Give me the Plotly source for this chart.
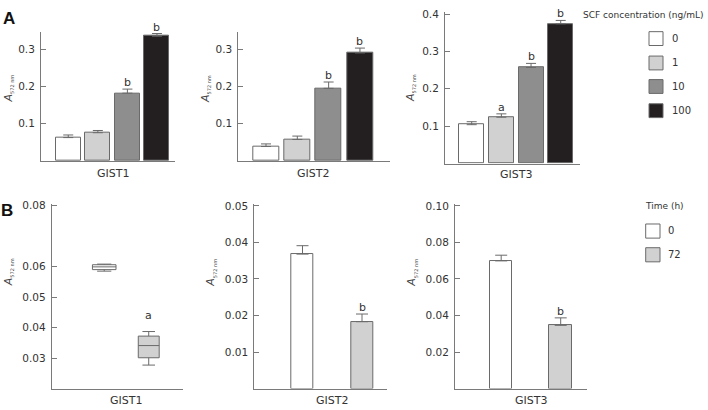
import plotly.graph_objects as go

# ---------------- data ----------------
concentrations = ["0", "1", "10", "100"]
a_groups = ["GIST1", "GIST2", "GIST3"]
a_gist1_mean = [0.063, 0.076, 0.182, 0.335]
a_gist1_upper = [0.070, 0.082, 0.193, 0.342]
a_gist2_mean = [0.039, 0.058, 0.195, 0.290]
a_gist2_upper = [0.046, 0.067, 0.212, 0.303]
a_gist3_mean = [0.104, 0.124, 0.257, 0.374]
a_gist3_upper = [0.112, 0.133, 0.268, 0.383]
a_gist1_sig = ["", "", "b", "b"]
a_gist2_sig = ["", "", "b", "b"]
a_gist3_sig = ["", "a", "b", "b"]

times = ["0", "72"]
b_groups = ["GIST1", "GIST2", "GIST3"]
b_gist1_q1 = [0.0590, 0.0301]
b_gist1_median = [0.0599, 0.0341]
b_gist1_q3 = [0.0606, 0.0372]
b_gist1_low = [0.0585, 0.0277]
b_gist1_high = [0.0608, 0.0387]
b_gist1_sig = ["", "a"]
b_gist2_mean = [0.0368, 0.0183]
b_gist2_upper = [0.0391, 0.0204]
b_gist2_sig = ["", "b"]
b_gist3_mean = [0.0699, 0.0346]
b_gist3_upper = [0.0730, 0.0387]
b_gist3_sig = ["", "b"]

a_ticks_12 = [0.1, 0.2, 0.3]
a_ticks_3 = [0.1, 0.2, 0.3, 0.4]
b_ticks_1 = [0.03, 0.04, 0.05, 0.06, 0.08]
b_ticks_2 = [0.01, 0.02, 0.03, 0.04, 0.05]
b_ticks_3 = [0.02, 0.04, 0.06, 0.08, 0.10]

# ---------------- style ----------------
W, H = 708, 410
FONT = "DejaVu Sans"
conc_colors = ["#ffffff", "#d1d1d1", "#8e8e8e", "#231f20"]
time_colors = ["#ffffff", "#d1d1d1"]
EDGE = "#6a6a6a"
AXIS = "#7a7a7a"
TXT = "#333333"


def px(x):
    return x / W


def py(y):
    return 1 - y / H


fig = go.Figure()

# ---------------- panel A bars ----------------
a_sets = [
    (a_gist1_mean, a_gist1_upper, a_gist1_sig, 0.845),
    (a_gist2_mean, a_gist2_upper, a_gist2_sig, 0.83),
    (a_gist3_mean, a_gist3_upper, a_gist3_sig, 0.84),
]
annotations = []
for k, (means, uppers, sigs, bw) in enumerate(a_sets):
    ax = "" if k == 0 else str(k + 1)
    xs = list(range(len(concentrations)))
    fig.add_trace(go.Bar(
        x=xs, y=means, width=bw,
        marker=dict(color=conc_colors, line=dict(color=EDGE, width=1)),
        error_y=dict(type="data", symmetric=False,
                     array=[u - m for u, m in zip(uppers, means)],
                     arrayminus=[0] * len(means),
                     color=EDGE, thickness=1, width=5),
        xaxis="x" + ax, yaxis="y" + ax, showlegend=False,
        hoverinfo="skip",
    ))
    for i, s in enumerate(sigs):
        if s:
            annotations.append(dict(
                x=i, y=uppers[i], xref="x" + ax, yref="y" + ax, text=s,
                showarrow=False, yanchor="bottom", yshift=-2,
                font=dict(family=FONT, size=11, color=TXT)))

# ---------------- panel B ----------------
box_widths = [0.53, 0.47]
for i in range(len(times)):
    fig.add_trace(go.Box(
        x=[i], q1=[b_gist1_q1[i]], median=[b_gist1_median[i]], q3=[b_gist1_q3[i]],
        lowerfence=[b_gist1_low[i]], upperfence=[b_gist1_high[i]],
        width=box_widths[i], whiskerwidth=0.6,
        fillcolor=time_colors[i], line=dict(color=EDGE, width=1),
        xaxis="x4", yaxis="y4", showlegend=False, hoverinfo="skip",
    ))
    if b_gist1_sig[i]:
        annotations.append(dict(
            x=i, y=b_gist1_high[i], xref="x4", yref="y4", text=b_gist1_sig[i],
            showarrow=False, yanchor="bottom", yshift=8,
            font=dict(family=FONT, size=11, color=TXT)))

b_sets = [(b_gist2_mean, b_gist2_upper, b_gist2_sig, "5", 0.37),
          (b_gist3_mean, b_gist3_upper, b_gist3_sig, "6", 0.38)]
for means, uppers, sigs, ax, bw in b_sets:
    xs = list(range(len(times)))
    fig.add_trace(go.Bar(
        x=xs, y=means, width=bw,
        marker=dict(color=time_colors, line=dict(color=EDGE, width=1)),
        error_y=dict(type="data", symmetric=False,
                     array=[u - m for u, m in zip(uppers, means)],
                     arrayminus=[0] * len(means),
                     color=EDGE, thickness=1, width=6),
        xaxis="x" + ax, yaxis="y" + ax, showlegend=False, hoverinfo="skip",
    ))
    for i, s in enumerate(sigs):
        if s:
            annotations.append(dict(
                x=i, y=uppers[i], xref="x" + ax, yref="y" + ax, text=s,
                showarrow=False, yanchor="bottom", yshift=-2,
                font=dict(family=FONT, size=11, color=TXT)))

# ---------------- axes ----------------
def xax(d0, d1, r):
    return dict(domain=[px(d0), px(d1)], range=r, showline=True, linecolor=AXIS,
                linewidth=1, showgrid=False, zeroline=False, showticklabels=False,
                ticks="", fixedrange=True)


def yax(d_bottom, d_top, r, tv, fmt, anchor):
    return dict(domain=[py(d_bottom), py(d_top)], range=r, showline=True,
                linecolor=AXIS, linewidth=1, showgrid=False, zeroline=False,
                ticks="inside", ticklen=5, tickcolor=AXIS, tickwidth=1,
                tickvals=tv, tickformat=fmt, ticklabelstandoff=3,
                tickfont=dict(family=FONT, size=10.5, color=TXT),
                anchor=anchor, fixedrange=True)


layout_axes = dict(
    xaxis=dict(xax(41, 175, [-0.922, 3.61]), anchor="y"),
    yaxis=yax(158, 27, [0, 0.347], a_ticks_12, ".1f", "x"),
    xaxis2=dict(xax(238.3, 390, [-0.885, 3.96]), anchor="y2"),
    yaxis2=yax(158, 27, [0, 0.347], a_ticks_12, ".1f", "x2"),
    xaxis3=dict(xax(445, 580, [-0.90, 3.65]), anchor="y3"),
    yaxis3=yax(160.5, 7.3, [0, 0.405], a_ticks_3, ".1f", "x3"),
    xaxis4=dict(xax(51.7, 183, [-1.18, 1.77]), anchor="y4"),
    yaxis4=yax(388.3, 201.5, [0.02, 0.0805], b_ticks_1, ".2f", "x4"),
    xaxis5=dict(xax(254.3, 386.7, [-0.81, 1.415]), anchor="y5"),
    yaxis5=yax(388.3, 201.5, [0, 0.0505], b_ticks_2, ".2f", "x5"),
    xaxis6=dict(xax(455, 586.7, [-0.776, 1.437]), anchor="y6"),
    yaxis6=yax(388.3, 201.5, [0, 0.101], b_ticks_3, ".2f", "x6"),
)

# ---------------- group labels ----------------
a_label_y = [170.7, 170.7, 172]
for k, g in enumerate(a_groups):
    ax = "" if k == 0 else str(k + 1)
    annotations.append(dict(
        x=(len(concentrations) - 1) / 2, y=py(a_label_y[k]), xref="x" + ax, yref="paper",
        text=g, showarrow=False, xanchor="center", yanchor="middle",
        font=dict(family=FONT, size=11, color=TXT)))
for k, g in enumerate(b_groups):
    annotations.append(dict(
        x=(len(times) - 1) / 2, y=py(400), xref="x" + str(k + 4), yref="paper",
        text=g, showarrow=False, xanchor="center", yanchor="middle",
        font=dict(family=FONT, size=11, color=TXT)))

# ---------------- y titles ----------------
ytitle = "<i>A</i><sub><span style='font-size:5px'>572 nm</span></sub>"
for xc, yc in [(8.5, 85), (206, 85), (411, 84), (8.5, 271), (211, 271), (412, 271)]:
    annotations.append(dict(
        x=px(xc), y=py(yc), xref="paper", yref="paper", text=ytitle,
        textangle=-90, showarrow=False, xanchor="center", yanchor="middle",
        font=dict(family=FONT, size=11, color="#444444")))

# ---------------- panel letters ----------------
for letter, xc, yc in [("A", 8.5, 14), ("B", 7, 208.5)]:
    annotations.append(dict(
        x=px(xc), y=py(yc), xref="paper", yref="paper", text="<b>" + letter + "</b>",
        showarrow=False, xanchor="center", yanchor="middle",
        font=dict(family="Liberation Sans", size=17, color="#111111")))

# ---------------- legends (drawn) ----------------
shapes = []
annotations.append(dict(
    x=px(581), y=py(10), xref="paper", yref="paper",
    text="SCF concentration (ng/mL)", showarrow=False, xanchor="left", yanchor="middle",
    font=dict(family=FONT, size=9, color=TXT)))
a_leg_tops = [27, 51.7, 75.5, 100]
for lab, col, top in zip(concentrations, conc_colors, a_leg_tops):
    shapes.append(dict(type="rect", xref="paper", yref="paper",
                       x0=px(649), x1=px(663), y0=py(top + 14), y1=py(top),
                       fillcolor=col, line=dict(color=EDGE, width=1)))
    annotations.append(dict(
        x=px(670), y=py(top + 7), xref="paper", yref="paper", text=lab,
        showarrow=False, xanchor="left", yanchor="middle",
        font=dict(family=FONT, size=10, color=TXT)))

annotations.append(dict(
    x=px(643), y=py(203.5), xref="paper", yref="paper",
    text="Time (h)", showarrow=False, xanchor="left", yanchor="middle",
    font=dict(family=FONT, size=9, color=TXT)))
b_leg_tops = [221.7, 245.7]
for lab, col, top in zip(times, time_colors, b_leg_tops):
    shapes.append(dict(type="rect", xref="paper", yref="paper",
                       x0=px(645.7), x1=px(660), y0=py(top + 14.3), y1=py(top),
                       fillcolor=col, line=dict(color=EDGE, width=1)))
    annotations.append(dict(
        x=px(666), y=py(top + 7), xref="paper", yref="paper", text=lab,
        showarrow=False, xanchor="left", yanchor="middle",
        font=dict(family=FONT, size=10, color=TXT)))

fig.update_layout(
    width=W, height=H,
    margin=dict(l=0, r=0, t=0, b=0),
    paper_bgcolor="white", plot_bgcolor="white",
    font=dict(family=FONT, size=10, color=TXT),
    showlegend=False, bargap=0,
    annotations=annotations, shapes=shapes,
    **layout_axes,
)

fig.write_html(
    "out.html",
    config={"displayModeBar": False},
    post_script="document.body.style.margin='0px';document.body.style.overflow='hidden';",
)
